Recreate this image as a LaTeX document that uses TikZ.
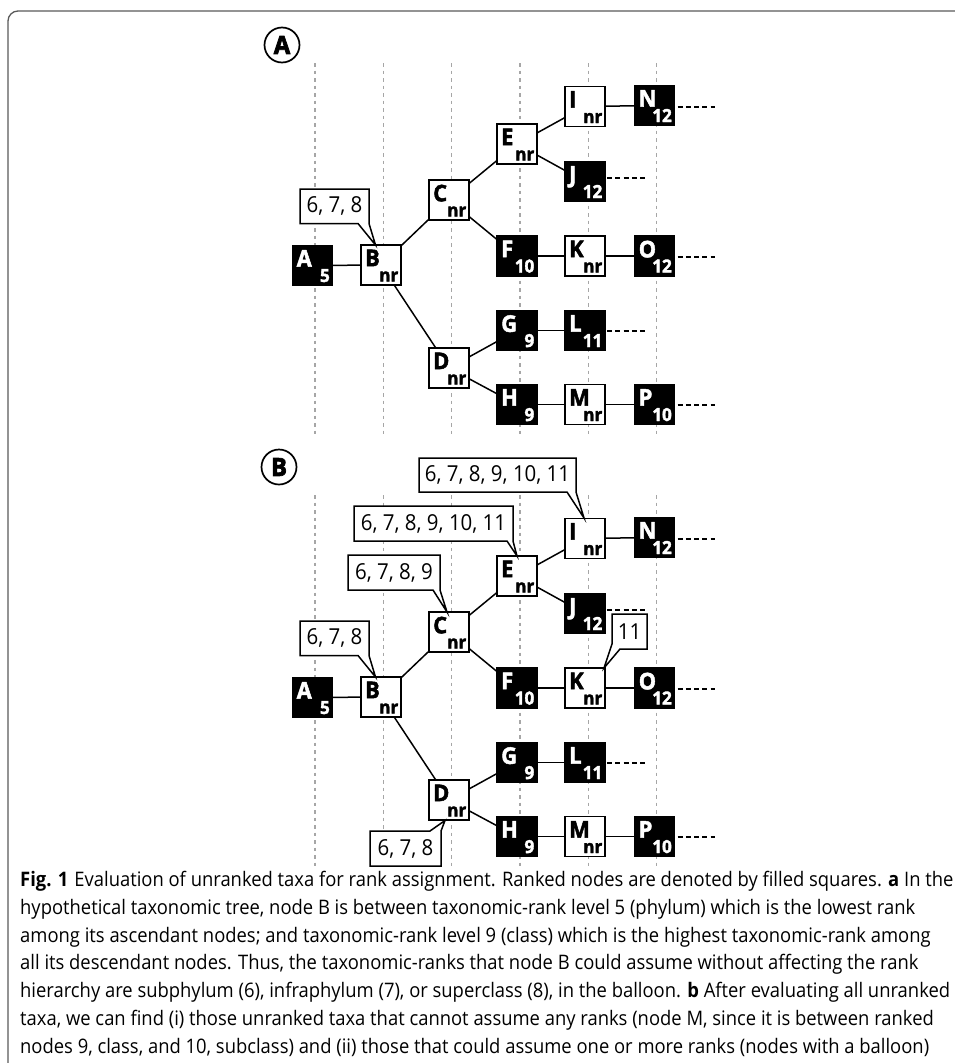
\documentclass[tikz,border=0pt]{standalone}
\usepackage{fontspec}
\setmainfont{Open Sans}
\newfontfamily\capfont{Open Sans}[FakeStretch=0.92]
\newfontfamily\nodefont{Open Sans}[FakeStretch=0.95, BoldFeatures={FakeBold=2}]
\newfontfamily\circfont{Open Sans}[FakeStretch=0.95, BoldFeatures={FakeBold=3}]
\newfontfamily\balfont{Open Sans}[FakeStretch=0.93]
\usetikzlibrary{calc}
\tikzset{
  frame/.style={draw=black!65, line width=1.3pt, rounded corners=10pt},
  guide/.style={draw=black!35, line width=1.3pt, dash pattern=on 3.5pt off 4pt},
  edge/.style={draw=black, line width=1.5pt},
  ext/.style={draw=black, line width=2pt, dash pattern=on 5pt off 3.3pt},
  taxbox/.style={draw=black, line width=1.5pt, minimum size=40pt, inner sep=0pt, outer sep=0pt},
  letterlbl/.style={inner sep=0pt, font=\nodefont\bfseries\fontsize{23}{23}\selectfont},
  sublbl/.style={inner sep=0pt, font=\nodefont\bfseries\fontsize{18}{18}\selectfont},
  balpath/.style={draw=black, fill=white, line width=1.5pt, line join=miter},
  baltext/.style={inner sep=0pt, font=\balfont\fontsize{22}{22}\selectfont},
  panellbl/.style={circle, draw=black, line width=1.7pt, minimum size=35pt, inner sep=0pt, font=\circfont\bfseries\fontsize{25}{25}\selectfont},
}
\newcommand\taxon[7]{% name, x, y, fill, text colour, letter, sub
  \node[taxbox, fill=#4] (#1) at (#2,#3) {};
  \node[letterlbl, text=#5, anchor=north west] (#1-l) at ($(#1.north west)+(4,4.5)$) {#6};
  \node[sublbl, text=#5, anchor=base east] (#1-s) at ($(#1.south east)+(-2.5,-3.5)$) {#7};
}
\newcommand\balloon[4]{% name, text centre, outline, text
  \draw[balpath] #3;
  \node[baltext] (#1) at #2 {#4};
}
\newcommand\treebody{%
  \foreach \gx in {315,383.3,451.7,520,588.3,656.7} {\draw[guide] (\gx,63) -- (\gx,435);}
  \taxon{A}{312.5}{265.5}{black}{white}{A}{5}
  \taxon{B}{381}{265}{white}{black}{B}{nr}
  \taxon{C}{449}{200}{white}{black}{C}{nr}
  \taxon{D}{449}{368}{white}{black}{D}{nr}
  \taxon{E}{517}{144}{white}{black}{E}{nr}
  \taxon{F}{517}{256}{black}{white}{F}{10}
  \taxon{G}{517}{330.5}{black}{white}{G}{9}
  \taxon{H}{517}{404.5}{black}{white}{H}{9}
  \taxon{I}{585}{106.5}{white}{black}{I}{nr}
  \taxon{J}{585}{181.5}{black}{white}{J}{12}
  \taxon{K}{585}{256}{white}{black}{K}{nr}
  \taxon{L}{585}{330.5}{black}{white}{L}{11}
  \taxon{M}{585}{404.5}{white}{black}{M}{nr}
  \taxon{N}{654.5}{105.5}{black}{white}{N}{12}
  \taxon{O}{654.5}{256}{black}{white}{O}{12}
  \taxon{P}{654.5}{404.5}{black}{white}{P}{10}
  \draw[edge] (A) -- (B);
  \draw[edge] (B) -- (C);
  \draw[edge] (B) -- (D);
  \draw[edge] (C) -- (E);
  \draw[edge] (C) -- (F);
  \draw[edge] (E) -- (I);
  \draw[edge] (E) -- (J);
  \draw[edge] (D) -- (G);
  \draw[edge] (D) -- (H);
  \draw[edge] (F) -- (K);
  \draw[edge] (K) -- (O);
  \draw[edge] (G) -- (L);
  \draw[edge] (H) -- (M);
  \draw[edge] (M) -- (P);
  \draw[edge] (I) -- (N);
  \draw[ext] ($(N.east)+(3,1)$) -- ++(37,0);
  \draw[ext] ($(J.east)+(2,-3.5)$) -- ++(38,0);
  \draw[ext] ($(O.east)+(3,0.5)$) -- ++(37,0);
  \draw[ext] ($(L.east)+(2,0)$) -- ++(38,0);
  \draw[ext] ($(P.east)+(3,0)$) -- ++(37,0);
}
\begin{document}
\begin{tikzpicture}[x=1pt,y=-1pt]
\useasboundingbox (0,0) rectangle (955,1063);
\draw[frame] (8,1063) -- (8,11) -- (955,11);

\node[panellbl] (panelA) at (282,45) {A};
\node[panellbl] (panelB) at (279,467) {B};

\begin{scope}[name prefix=a-]
  \treebody
  \balloon{bB}{(334.5,206)}{(300,189) -- (369,189) -- (369,223.5) -- (375.5,245) -- (358,223.5) -- (300,223.5) -- cycle}{6, 7, 8}
\end{scope}

\begin{scope}[shift={(0,432)}, name prefix=b-]
  \treebody
  \balloon{bI}{(497.5,43)}{(419,26) -- (576,26) -- (576,60) -- (584,86) -- (567,60) -- (419,60) -- cycle}{6, 7, 8, 9, 10, 11}
  \balloon{bE}{(433.5,91.5)}{(354,74) -- (513,74) -- (513,109) -- (517,124) -- (507,109) -- (354,109) -- cycle}{6, 7, 8, 9, 10, 11}
  \balloon{bC}{(394,140.5)}{(348,123) -- (440,123) -- (440,158) -- (447,180) -- (433,158) -- (348,158) -- cycle}{6, 7, 8, 9}
  \balloon{bB}{(334.5,206)}{(300,189) -- (369,189) -- (369,223.5) -- (375.5,245) -- (358,223.5) -- (300,223.5) -- cycle}{6, 7, 8}
  \balloon{bK}{(629.5,199.5)}{(612,182) -- (647,182) -- (647,217) -- (620,217) -- (604,236) -- (612,212) -- cycle}{11}
  \balloon{bD}{(405.5,416.5)}{(370,399) -- (430,399) -- (445,388.5) -- (441,399) -- (441,434) -- (370,434) -- cycle}{6, 7, 8}
\end{scope}

\node[anchor=north west, inner sep=0pt, align=left, font=\capfont\fontsize{20}{27.8}\selectfont] (caption) at (20,871)
{\textbf{Fig. 1}\hspace{6pt}Evaluation of unranked taxa for rank assignment. Ranked nodes are denoted by filled squares. \textbf{a} In the\\
hypothetical taxonomic tree, node B is between taxonomic-rank level 5 (phylum) which is the lowest rank\\
among its ascendant nodes; and taxonomic-rank level 9 (class) which is the highest taxonomic-rank among\\
all its descendant nodes. Thus, the taxonomic-ranks that node B could assume without affecting the rank\\
hierarchy are subphylum (6), infraphylum (7), or superclass (8), in the balloon. \textbf{b} After evaluating all unranked\\
taxa, we can find (i) those unranked taxa that cannot assume any ranks (node M, since it is between ranked\\
nodes 9, class, and 10, subclass) and (ii) those that could assume one or more ranks (nodes with a balloon)};
\end{tikzpicture}
\end{document}
